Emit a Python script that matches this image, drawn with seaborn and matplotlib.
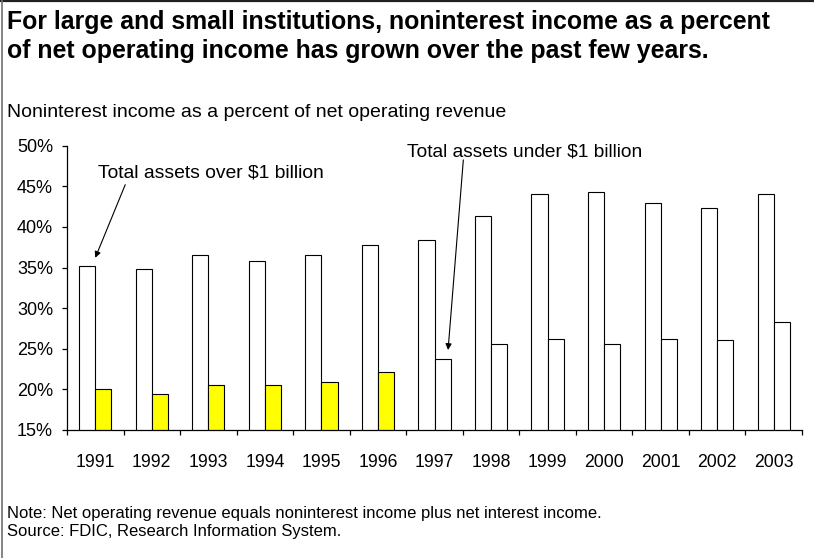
import matplotlib
matplotlib.use("Agg")
import matplotlib.pyplot as plt
from matplotlib.lines import Line2D
from matplotlib.ticker import FixedLocator, FuncFormatter
import numpy as np
import pandas as pd
import seaborn as sns

# Noninterest income as a percent of net operating revenue, by asset size
years = [1991, 1992, 1993, 1994, 1995, 1996, 1997, 1998, 1999, 2000, 2001, 2002, 2003]
over_1b = [35.2, 34.8, 36.6, 35.8, 36.6, 37.8, 38.4, 41.4, 44.0, 44.3, 42.9, 42.3, 44.0]
under_1b = [20.1, 19.4, 20.6, 20.5, 20.9, 22.2, 23.7, 25.6, 26.2, 25.6, 26.2, 26.1, 28.3]
groups = ["Total assets over $1 billion", "Total assets under $1 billion"]
y_ticks = [15, 20, 25, 30, 35, 40, 45, 50]

title_lines = [
    "For large and small institutions, noninterest income as a percent",
    "of net operating income has grown over the past few years.",
]
subtitle = "Noninterest income as a percent of net operating revenue"
notes = [
    "Note: Net operating revenue equals noninterest income plus net interest income.",
    "Source: FDIC, Research Information System.",
]

df = pd.DataFrame({
    "year": [str(y) for y in years] * 2,
    "value": over_1b + under_1b,
    "group": [groups[0]] * len(years) + [groups[1]] * len(years),
})

sns.set_theme(style="white")
plt.rcParams["font.family"] = ["Liberation Sans", "DejaVu Sans"]

W, H = 814, 558
fig = plt.figure(figsize=(W / 100, H / 100), dpi=100)
ax = fig.add_axes([67 / W, 1 - 430 / H, (802 - 67) / W, (430 - 145.7) / H])

sns.barplot(
    data=df, x="year", y="value", hue="group",
    palette=["white", "#FFFF00"], width=0.57, gap=0,
    edgecolor="black", linewidth=0.8, saturation=1,
    legend=False, ax=ax,
)

# small-institution bars are shaded yellow only through 1996
n = len(years)
small_bars = ax.patches[n:2 * n]
for yr, bar in zip(years, small_bars):
    if yr > 1996:
        bar.set_facecolor("white")

ax.set_ylim(15, 50)
ax.set_xlim(-0.5, n - 0.5)
ax.yaxis.set_major_locator(FixedLocator(y_ticks))
ax.yaxis.set_major_formatter(FuncFormatter(lambda v, p: f"{v:.0f}%"))
ax.set_xlabel("")
ax.set_ylabel("")

for side in ["top", "right"]:
    ax.spines[side].set_visible(False)
for side in ["left", "bottom"]:
    ax.spines[side].set_color("black")
    ax.spines[side].set_linewidth(0.9)

ax.tick_params(axis="y", which="major", left=True, direction="out", length=3.6,
               width=0.9, color="black", pad=6.5, labelsize=13, labelcolor="black")
ax.tick_params(axis="x", which="major", bottom=False, pad=11, labelsize=12.7,
               labelcolor="black")
ax.xaxis.set_minor_locator(FixedLocator(np.arange(-0.5, n, 1.0)))
ax.tick_params(axis="x", which="minor", bottom=True, direction="out", length=3.6,
               width=0.9, color="black")

# callouts
ax.text(0.05, 46.65, groups[0], fontsize=13.9, va="center", ha="left", color="black")
ax.annotate("", xy=(0.0, 36.2), xytext=(0.53, 45.2),
            arrowprops=dict(arrowstyle="-|>", lw=0.8, color="black",
                            mutation_scale=9, shrinkA=0, shrinkB=0))
ax.text(5.51, 49.27, groups[1], fontsize=13.8, va="center", ha="left", color="black",
        clip_on=False)
ax.annotate("", xy=(6.24, 24.85), xytext=(6.51, 48.25),
            arrowprops=dict(arrowstyle="-|>", lw=0.8, color="black",
                            mutation_scale=9, shrinkA=0, shrinkB=0))

# heading, subtitle and footnotes
fig.text(7 / W, 1 - 29 / H, title_lines[0], fontsize=17.9, fontweight="bold",
         va="baseline", ha="left", color="black")
fig.text(7 / W, 1 - 57.5 / H, title_lines[1], fontsize=17.9, fontweight="bold",
         va="baseline", ha="left", color="black")
fig.text(7 / W, 1 - 116.7 / H, subtitle, fontsize=14, va="baseline", ha="left",
         color="black")
fig.text(7 / W, 1 - 518 / H, notes[0], fontsize=12, va="baseline", ha="left",
         color="black")
fig.text(7 / W, 1 - 536 / H, notes[1], fontsize=12, va="baseline", ha="left",
         color="black")

# frame lines along the top and left edges
fig.add_artist(Line2D([0, 1], [1 - 1 / H, 1 - 1 / H], transform=fig.transFigure,
                      color="#202020", lw=1.6))
fig.add_artist(Line2D([1.5 / W, 1.5 / W], [0, 1], transform=fig.transFigure,
                      color="#707070", lw=1.2))

fig.savefig("out.png", dpi=100, facecolor="white")
